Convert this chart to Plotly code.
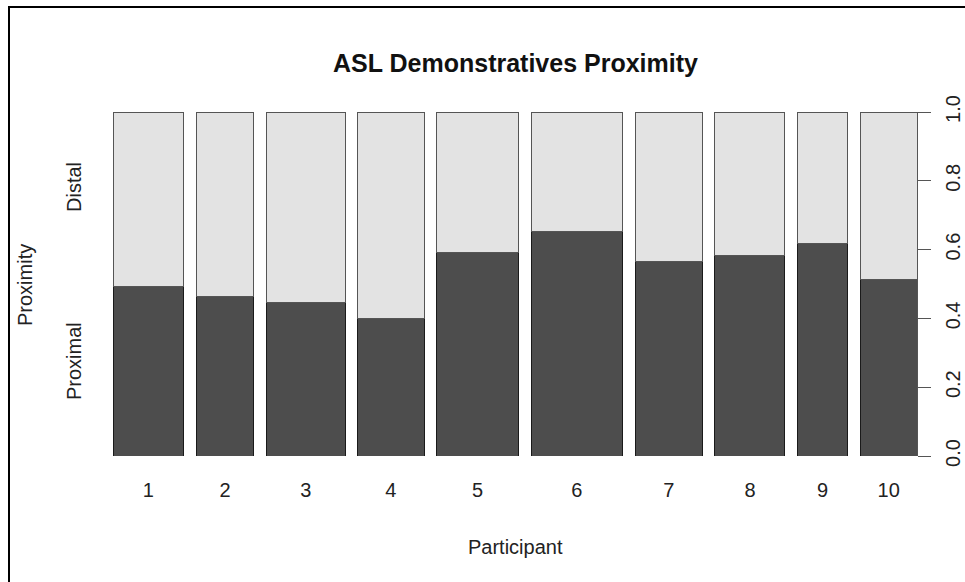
import plotly.graph_objects as go

# ---- data ----
participants = ["1", "2", "3", "4", "5", "6", "7", "8", "9", "10"]
# relative share of observations per participant (bar widths in the spineplot)
participant_share = [0.1024, 0.0830, 0.1140, 0.0960, 0.1184, 0.1323, 0.0971, 0.1014, 0.0724, 0.0821]
# proportion of Proximal demonstratives per participant
proximal = [0.492, 0.463, 0.445, 0.400, 0.591, 0.652, 0.566, 0.584, 0.618, 0.513]
distal = [round(1 - p, 3) for p in proximal]
y_ticks = [0.0, 0.2, 0.4, 0.6, 0.8, 1.0]
gap = 0.0184  # spacing between spines (fraction of total)

# spine positions (as a spineplot computes them)
total_share = sum(participant_share)
widths = [s / total_share for s in participant_share]
lefts = []
pos = 0.0
for w in widths:
    lefts.append(pos)
    pos += w + gap
x_max = pos - gap
centers = [l + w / 2 for l, w in zip(lefts, widths)]

W, H = 965, 582
ML, MT = 113, 112
MR = W - 917
MB = H - 456
PW, PH = W - ML - MR, H - MT - MB

def px(x):  # screen x -> paper
    return (x - ML) / PW

def py(y):  # screen y -> paper
    return (H - MB - y) / PH

FONT = "Liberation Sans, Arial, Helvetica, sans-serif"

fig = go.Figure()
fig.add_trace(go.Bar(
    x=centers, y=proximal, width=widths, name="Proximal",
    marker=dict(color="#4d4d4d", line=dict(color="#1a1a1a", width=1)),
))
fig.add_trace(go.Bar(
    x=centers, y=distal, width=widths, name="Distal",
    marker=dict(color="#e3e3e3", line=dict(color="#555555", width=1)),
))

fig.update_layout(
    width=W, height=H, barmode="stack", showlegend=False,
    margin=dict(l=ML, r=MR, t=MT, b=MB, autoexpand=False),
    paper_bgcolor="white", plot_bgcolor="white",
    font=dict(family=FONT, size=20, color="#222222"),
    xaxis=dict(range=[0, x_max], tickvals=centers, ticktext=participants,
               showgrid=False, zeroline=False, showline=False, ticks="",
               ticklabelstandoff=20, fixedrange=True),
    yaxis=dict(range=[0, 1], side="right", tickvals=y_ticks,
               ticktext=[f"{v:.1f}" for v in y_ticks], tickangle=-90,
               showgrid=False, zeroline=False, showline=True,
               linecolor="#555555", linewidth=1, ticks="outside",
               ticklen=13, tickcolor="#555555", ticklabelstandoff=5,
               fixedrange=True),
)

annotations = [
    dict(text="<b>ASL Demonstratives Proximity</b>", x=px(515), y=py(63),
         font=dict(size=25, color="#111111")),
    dict(text="Participant", x=px(515), y=py(547)),
    dict(text="Proximity", x=px(25), y=py(285), textangle=-90),
    dict(text="Proximal", x=px(74), y=py(361), textangle=-90),
    dict(text="Distal", x=px(74), y=py(187), textangle=-90),
]
for a in annotations:
    a.update(xref="paper", yref="paper", showarrow=False,
             xanchor="center", yanchor="middle")
    fig.add_annotation(**a)

# image frame (top and left edges)
fig.add_shape(type="line", xref="paper", yref="paper",
              x0=px(8), x1=px(980), y0=py(7), y1=py(7),
              line=dict(color="black", width=2))
fig.add_shape(type="line", xref="paper", yref="paper",
              x0=px(9), x1=px(9), y0=py(6), y1=py(600),
              line=dict(color="black", width=2))

fig.write_html(
    "out.html",
    config={"displayModeBar": False, "staticPlot": True},
    post_script="document.body.style.margin='0';document.body.style.overflow='hidden';",
)
